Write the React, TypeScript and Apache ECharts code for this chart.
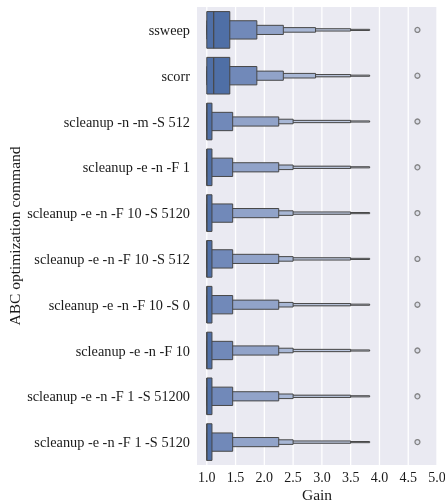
import React, { useEffect, useRef } from "react";
import * as echarts from "echarts";

// Optimization commands, top to bottom
const commands = [
  "ssweep",
  "scorr",
  "scleanup -n -m -S 512",
  "scleanup -e -n -F 1",
  "scleanup -e -n -F 10 -S 5120",
  "scleanup -e -n -F 10 -S 512",
  "scleanup -e -n -F 10 -S 0",
  "scleanup -e -n -F 10",
  "scleanup -e -n -F 1 -S 51200",
  "scleanup -e -n -F 1 -S 5120",
];

// Letter-value box ends (innermost box first)
const lowerEnds: number[][] = [
  [1.0, 1.0, 1.0, 1.0, 1.0, 1.0],
  [1.0, 1.0, 1.0, 1.0, 1.0, 1.0],
  [1.0, 1.0, 1.0, 1.0, 1.0, 1.0],
  [1.0, 1.0, 1.0, 1.0, 1.0, 1.0],
  [1.0, 1.0, 1.0, 1.0, 1.0, 1.0],
  [1.0, 1.0, 1.0, 1.0, 1.0, 1.0],
  [1.0, 1.0, 1.0, 1.0, 1.0, 1.0],
  [1.0, 1.0, 1.0, 1.0, 1.0, 1.0],
  [1.0, 1.0, 1.0, 1.0, 1.0, 1.0],
  [1.0, 1.0, 1.0, 1.0, 1.0, 1.0],
];
const upperEnds: number[][] = [
  [1.4, 1.87, 2.33, 2.89, 3.5, 3.83],
  [1.4, 1.87, 2.33, 2.89, 3.5, 3.83],
  [1.09, 1.45, 2.25, 2.5, 3.5, 3.83],
  [1.09, 1.45, 2.25, 2.5, 3.5, 3.83],
  [1.09, 1.45, 2.25, 2.5, 3.5, 3.83],
  [1.09, 1.45, 2.25, 2.5, 3.5, 3.83],
  [1.09, 1.45, 2.25, 2.5, 3.5, 3.83],
  [1.09, 1.45, 2.25, 2.5, 3.5, 3.83],
  [1.09, 1.45, 2.25, 2.5, 3.5, 3.83],
  [1.09, 1.45, 2.25, 2.5, 3.5, 3.83],
];
const medians = [1.12, 1.12, 1.0, 1.0, 1.0, 1.0, 1.0, 1.0, 1.0, 1.0];
const outliers = [4.66, 4.66, 4.66, 4.66, 4.66, 4.66, 4.66, 4.66, 4.66, 4.66];

const xTicks = [1.0, 1.5, 2.0, 2.5, 3.0, 3.5, 4.0, 4.5, 5.0];

const levelColors = ["#4f6fa6", "#7189b9", "#91a3c9", "#a8b7d5", "#bcc7de", "#d0d7e7"];
const edgeColor = "#474747";
const boxWidth = 0.8;
const font = "'Liberation Serif', 'Times New Roman', serif";
const textColor = "#1a1a1a";

export default function App() {
  const ref = useRef<HTMLDivElement>(null);

  useEffect(() => {
    if (!ref.current) return;
    const chart = echarts.init(ref.current, undefined, { renderer: "svg" });

    // outermost boxes first so the wider inner boxes sit on top
    const boxData: number[][] = [];
    commands.forEach((_, ci) => {
      for (let lv = upperEnds[ci].length - 1; lv >= 0; lv--) {
        boxData.push([ci, lowerEnds[ci][lv], upperEnds[ci][lv], lv]);
      }
    });

    chart.setOption({
      animation: false,
      grid: {
        left: 197,
        top: 7,
        width: 240,
        height: 458,
        show: true,
        backgroundColor: "#eaeaf2",
        borderWidth: 0,
        outerBoundsMode: "none",
        containLabel: false,
      },
      xAxis: {
        type: "value",
        min: 0.83,
        max: 5.0,
        name: "Gain",
        nameLocation: "middle",
        nameGap: 21,
        nameMoveOverlap: false,
        nameTextStyle: { fontFamily: font, fontSize: 15.5, color: textColor },
        axisLine: { show: false },
        axisTick: { show: false },
        splitLine: { show: false },
        axisLabel: {
          customValues: xTicks,
          formatter: (v: number) => v.toFixed(1),
          fontFamily: font,
          fontSize: 14,
          color: textColor,
          margin: 5,
        },
      },
      yAxis: {
        type: "category",
        data: commands,
        inverse: true,
        name: "ABC optimization command",
        nameLocation: "middle",
        nameGap: 175,
        nameMoveOverlap: false,
        nameTextStyle: { fontFamily: font, fontSize: 15.5, color: textColor },
        axisLine: { show: false },
        axisTick: { show: false },
        splitLine: { show: false },
        axisLabel: {
          fontFamily: font,
          fontSize: 14.3,
          color: textColor,
          margin: 7,
        },
      },
      series: [
        {
          // vertical grid lines
          type: "custom",
          silent: true,
          z: 1,
          data: xTicks.map((v) => [v, 0]),
          encode: { x: 0, y: 1 },
          renderItem: (params: any, api: any) => {
            const cs = params.coordSys;
            const x = api.coord([api.value(0), 0])[0];
            return {
              type: "line",
              shape: { x1: x, y1: cs.y, x2: x, y2: cs.y + cs.height },
              style: { stroke: "#ffffff", lineWidth: 1.3 },
            };
          },
        },
        {
          type: "custom",
          z: 2,
          data: boxData,
          encode: { x: [1, 2], y: 0 },
          renderItem: (_params: any, api: any) => {
            const cat = api.value(0);
            const lo = api.value(1);
            const hi = api.value(2);
            const lv = api.value(3);
            const p0 = api.coord([lo, cat]);
            const p1 = api.coord([hi, cat]);
            const band = api.size([0, 1])[1];
            const h = band * boxWidth * Math.pow(0.5, lv);
            return {
              type: "rect",
              shape: { x: p0[0], y: p0[1] - h / 2, width: p1[0] - p0[0], height: h },
              style: { fill: levelColors[lv], stroke: edgeColor, lineWidth: 1 },
            };
          },
        },
        {
          // median line across the innermost box
          type: "custom",
          z: 3,
          data: medians.map((m, ci) => [m, ci]),
          encode: { x: 0, y: 1 },
          renderItem: (_params: any, api: any) => {
            const p = api.coord([api.value(0), api.value(1)]);
            const band = api.size([0, 1])[1];
            const h = band * boxWidth;
            return {
              type: "line",
              shape: { x1: p[0], y1: p[1] - h / 2, x2: p[0], y2: p[1] + h / 2 },
              style: { stroke: edgeColor, lineWidth: 1.2 },
            };
          },
        },
        {
          type: "scatter",
          z: 4,
          data: outliers.map((v, ci) => [v, ci]),
          symbol: "circle",
          symbolSize: 5,
          itemStyle: { color: "#d8dbe3", borderColor: "#6a6a6a", borderWidth: 1.3 },
        },
      ],
    });

    return () => chart.dispose();
  }, []);

  return (
    <div
      ref={ref}
      style={{ position: "fixed", left: 0, top: 0, width: 445, height: 502 }}
    />
  );
}
